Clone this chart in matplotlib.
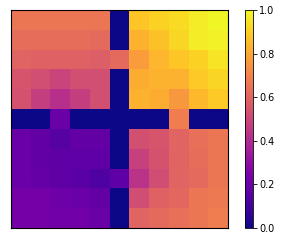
import matplotlib
matplotlib.use("Agg")
import matplotlib.pyplot as plt
import numpy as np

# Werte der 11x11-Matrix (zeilenweise, von oben)
row0 = [0.66, 0.66, 0.66, 0.66, 0.66, 0.00, 0.88, 0.91, 0.93, 0.97, 0.99]
row1 = [0.63, 0.63, 0.63, 0.63, 0.62, 0.00, 0.83, 0.87, 0.92, 0.97, 0.98]
row2 = [0.60, 0.59, 0.59, 0.59, 0.58, 0.62, 0.77, 0.84, 0.88, 0.91, 0.95]
row3 = [0.55, 0.53, 0.49, 0.53, 0.53, 0.00, 0.82, 0.83, 0.83, 0.89, 0.92]
row4 = [0.54, 0.47, 0.42, 0.47, 0.53, 0.00, 0.83, 0.82, 0.76, 0.85, 0.89]
row5 = [0.00, 0.00, 0.20, 0.00, 0.00, 0.00, 0.00, 0.00, 0.68, 0.00, 0.00]
row6 = [0.20, 0.18, 0.15, 0.18, 0.18, 0.00, 0.53, 0.55, 0.60, 0.64, 0.66]
row7 = [0.20, 0.18, 0.17, 0.17, 0.17, 0.00, 0.48, 0.54, 0.60, 0.63, 0.66]
row8 = [0.20, 0.19, 0.17, 0.16, 0.13, 0.17, 0.43, 0.52, 0.60, 0.62, 0.66]
row9 = [0.23, 0.23, 0.21, 0.20, 0.18, 0.00, 0.52, 0.59, 0.61, 0.66, 0.67]
row10 = [0.23, 0.23, 0.22, 0.22, 0.20, 0.00, 0.60, 0.62, 0.64, 0.66, 0.68]

data = np.array([row0, row1, row2, row3, row4, row5,
                 row6, row7, row8, row9, row10])

fig = plt.figure(figsize=(2.85, 2.41), dpi=100)
ax = fig.add_axes([11 / 285, 1 - 228 / 241, 217 / 285, 218 / 241])
cax = fig.add_axes([245 / 285, 1 - 228 / 241, 8 / 285, 218 / 241])

im = ax.imshow(data, cmap="plasma", vmin=0, vmax=1, aspect="auto",
               interpolation="nearest")
ax.set_xticks([])
ax.set_yticks([])

cb = fig.colorbar(im, cax=cax)
cb.set_ticks([0.0, 0.2, 0.4, 0.6, 0.8, 1.0])
cb.ax.tick_params(labelsize=7, length=3, width=0.6, pad=1.5)
cb.outline.set_linewidth(0.6)

fig.savefig("out.png", dpi=100)
